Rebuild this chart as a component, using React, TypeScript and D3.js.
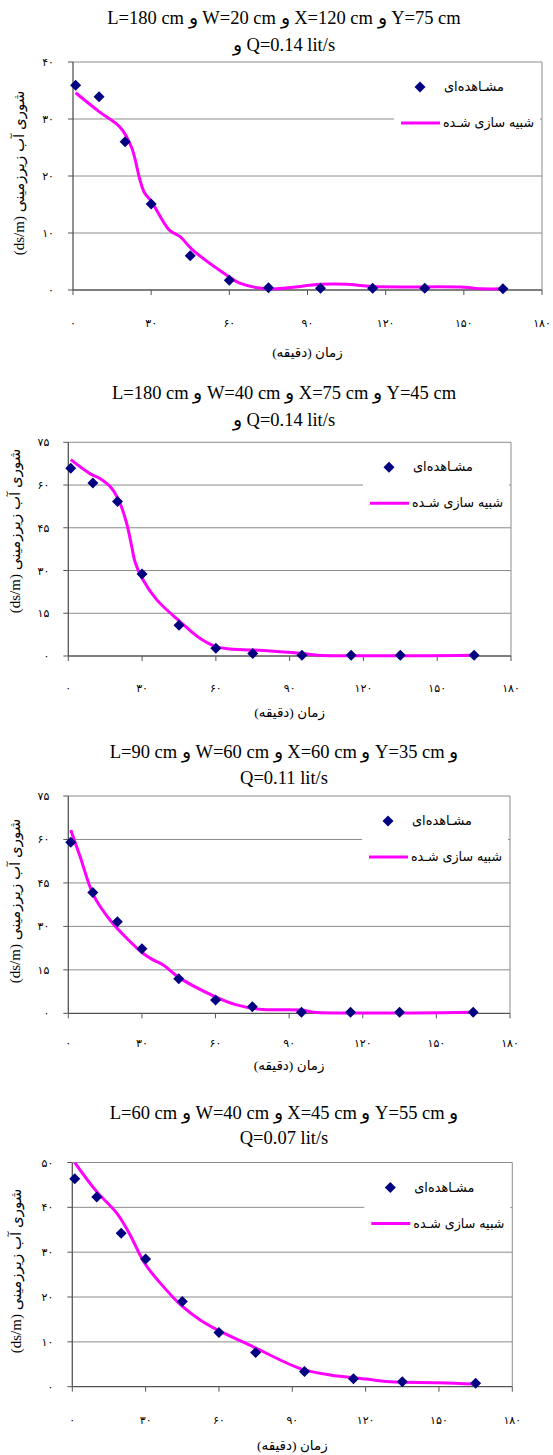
import React from 'react';
import * as d3 from 'd3';

// ---------- data ----------
const obsTime = [1, 10, 20, 30, 45, 60, 75, 95, 115, 135, 165];
const obs1 = [35.9, 33.9, 26.0, 15.1, 6.0, 1.7, 0.4, 0.3, 0.3, 0.3, 0.2];
const obs2 = [65.9, 60.7, 54.2, 28.8, 10.8, 2.7, 0.9, 0.3, 0.3, 0.3, 0.3];
const obs3 = [59.0, 41.7, 31.6, 22.3, 11.9, 4.6, 2.3, 0.4, 0.4, 0.4, 0.4];
const obs4 = [46.4, 42.3, 34.2, 28.5, 19.0, 12.1, 7.6, 3.4, 1.8, 1.1, 0.75];

const simTime1 = [1, 10, 18, 22.5, 25.7, 27.5, 30, 37, 41, 46, 60, 64, 75, 95, 105, 115, 150, 157, 165];
const sim1 = [34.6, 31.3, 28.6, 25.0, 19.3, 17.0, 15.6, 10.5, 9.4, 7.0, 2.3, 1.2, 0.2, 1.0, 1.0, 0.6, 0.5, 0.2, 0.2];

const simTime2 = [1, 8.8, 13, 17.6, 21, 23.7, 25.8, 27.1, 30, 36, 45.4, 53.5, 60, 67, 75, 95, 101.5, 165];
const sim2 = [68.9, 64.0, 62.2, 58.9, 53.7, 46.6, 38.4, 33.1, 27.3, 19.7, 12.1, 6.2, 3.3, 2.4, 2.1, 0.9, 0.3, 0.3];

const simTime3 = [1, 4.8, 10.2, 17, 23.8, 30, 34, 38.7, 45, 60, 68.6, 78, 95, 100, 165];
const sim3 = [63.3, 54.1, 40.9, 32.2, 25.9, 21.0, 18.7, 16.7, 12.4, 5.7, 2.9, 1.4, 1.1, 0.4, 0.4];

const simTime4 = [1, 10, 18.2, 23.6, 27.7, 30, 36, 44.8, 52.3, 60, 74, 93, 105.5, 120.5, 130, 150, 165];
const sim4 = [50.0, 43.5, 38.7, 33.9, 29.4, 27.2, 23.1, 18.0, 14.9, 12.5, 8.9, 4.1, 2.6, 1.7, 1.1, 0.9, 0.6];

const xTicks = [0, 30, 60, 90, 120, 150, 180];
const xTickLabels = ['۰', '۳۰', '۶۰', '۹۰', '۱۲۰', '۱۵۰', '۱۸۰'];
const yTicks40 = [0, 10, 20, 30, 40];
const yTickLabels40 = ['۰', '۱۰', '۲۰', '۳۰', '۴۰'];
const yTicks75 = [0, 15, 30, 45, 60, 75];
const yTickLabels75 = ['۰', '۱۵', '۳۰', '۴۵', '۶۰', '۷۵'];
const yTicks50 = [0, 10, 20, 30, 40, 50];
const yTickLabels50 = ['۰', '۱۰', '۲۰', '۳۰', '۴۰', '۵۰'];

const titles1 = ['L=180 cm و W=20 cm و X=120 cm و Y=75 cm', 'و Q=0.14 lit/s'];
const titles2 = ['L=180 cm و W=40 cm و X=75 cm و Y=45 cm', 'و Q=0.14 lit/s'];
const titles3 = ['L=90 cm و W=60 cm و X=60 cm و Y=35 cm و', 'Q=0.11 lit/s'];
const titles4 = ['L=60 cm و W=40 cm و X=45 cm و Y=55 cm و', 'Q=0.07 lit/s'];

const yLabel = 'شوری آب زیرزمینی (ds/m)';
const xLabel = 'زمان (دقیقه)';
const legendObs = 'مشـاهده‌ای';
const legendSim = 'شبیه سازی شـده';

// ---------- layout ----------
const panels = [
  { obs: obs1, simT: simTime1, sim: sim1, yTicks: yTicks40, yLabels: yTickLabels40, titles: titles1,
    left: 73, right: 542, top: 62, bottom: 290, t1: 24, t2: 51, ylx: 21, yly: 173, xty: 327, xly: 357 },
  { obs: obs2, simT: simTime2, sim: sim2, yTicks: yTicks75, yLabels: yTickLabels75, titles: titles2,
    left: 68.3, right: 511, top: 442.3, bottom: 656, t1: 399, t2: 426, ylx: 17, yly: 531, xty: 692, xly: 717 },
  { obs: obs3, simT: simTime3, sim: sim3, yTicks: yTicks75, yLabels: yTickLabels75, titles: titles3,
    left: 68.3, right: 510, top: 796, bottom: 1013.3, t1: 758, t2: 784, ylx: 17, yly: 901, xty: 1047, xly: 1070 },
  { obs: obs4, simT: simTime4, sim: sim4, yTicks: yTicks50, yLabels: yTickLabels50, titles: titles4,
    left: 72.3, right: 512.3, top: 1162.5, bottom: 1386.7, t1: 1119, t2: 1144, ylx: 18, yly: 1271, xty: 1424, xly: 1450 },
];

const NAVY = '#000080';
const MAGENTA = '#FF00FF';
const GRID = '#8c8c8c';
const SERIF = "'Liberation Serif', 'Times New Roman', serif";
const MIXED = "'Liberation Serif', 'DejaVu Sans', serif";
const SANS = "'DejaVu Sans', sans-serif";

function Diamond({ cx, cy, r = 5.5 }: { cx: number; cy: number; r?: number }) {
  return <path d={`M${cx},${cy - r}L${cx + r},${cy}L${cx},${cy + r}L${cx - r},${cy}Z`} fill={NAVY} />;
}

function Panel({ p }: { p: any }) {
  const x = d3.scaleLinear().domain([0, 180]).range([p.left, p.right]);
  const yMax = p.yTicks[p.yTicks.length - 1];
  const y = d3.scaleLinear().domain([0, yMax]).range([p.bottom, p.top]);
  const line = d3
    .line<number>()
    .x((_, i) => x(p.simT[i]))
    .y((d) => y(d))
    .curve(d3.curveCatmullRom.alpha(0.5));
  const R = p.right;
  const cx = (p.left + p.right) / 2;
  return (
    <g>
      <text x={284} y={p.t1} textAnchor="middle" direction="ltr" fontFamily={SERIF} fontSize={18.5} fill="#000">
        {p.titles[0]}
      </text>
      <text x={284} y={p.t2} textAnchor="middle" direction="ltr" fontFamily={SERIF} fontSize={18.5} fill="#000">
        {p.titles[1]}
      </text>
      {/* grid lines */}
      {p.yTicks.slice(1).map((t: number) => (
        <line key={'g' + t} x1={p.left} x2={p.right} y1={y(t)} y2={y(t)} stroke={GRID} strokeWidth={1} />
      ))}
      <line x1={p.right} x2={p.right} y1={p.top} y2={p.bottom} stroke={GRID} strokeWidth={1} />
      {/* legend box */}
      <rect x={R - 148} y={p.top + 4} width={146} height={72} fill="#fff" />
      {/* axes */}
      <line x1={p.left} x2={p.left} y1={p.top} y2={p.bottom} stroke="#555" strokeWidth={1.3} />
      <line x1={p.left} x2={p.right} y1={p.bottom} y2={p.bottom} stroke="#555" strokeWidth={1.3} />
      {p.yTicks.map((t: number, i: number) => (
        <g key={'y' + t}>
          <line x1={p.left - 5} x2={p.left} y1={y(t)} y2={y(t)} stroke="#555" strokeWidth={1} />
          <text x={p.left - 19} y={y(t) + 4} textAnchor="end" fontFamily={SANS} fontSize={11} fill="#000">
            {p.yLabels[i]}
          </text>
        </g>
      ))}
      {xTicks.map((t, i) => (
        <g key={'x' + t}>
          <line x1={x(t)} x2={x(t)} y1={p.bottom} y2={p.bottom + 5} stroke="#555" strokeWidth={1} />
          <text x={x(t)} y={p.xty} textAnchor="middle" fontFamily={SANS} fontSize={11} fill="#000">
            {xTickLabels[i]}
          </text>
        </g>
      ))}
      {/* series */}
      <path d={line(p.sim) || ''} fill="none" stroke={MAGENTA} strokeWidth={3} />
      {p.obs.map((v: number, i: number) => (
        <Diamond key={'o' + i} cx={x(obsTime[i])} cy={y(v)} />
      ))}
      {/* legend */}
      <Diamond cx={R - 122} cy={p.top + 25} />
      <text x={R - 38} y={p.top + 29} textAnchor="end" fontFamily={SANS} fontSize={13.5}
        textLength={60} lengthAdjust="spacingAndGlyphs" fill="#000">
        {legendObs}
      </text>
      <line x1={R - 141} x2={R - 102} y1={p.top + 61} y2={p.top + 61} stroke={MAGENTA} strokeWidth={3} />
      <text x={R - 8} y={p.top + 65} textAnchor="end" fontFamily={SANS} fontSize={13.5}
        textLength={91} lengthAdjust="spacingAndGlyphs" fill="#000">
        {legendSim}
      </text>
      {/* axis labels */}
      <text
        transform={`translate(${p.ylx},${p.yly}) rotate(-90)`}
        textAnchor="middle"
        direction="rtl"
        dominantBaseline="middle"
        fontFamily={MIXED}
        fontSize={15}
        fill="#000"
      >
        {yLabel}
      </text>
      <text x={cx} y={p.xly} textAnchor="middle" direction="rtl" fontFamily={MIXED} fontSize={13.5} fill="#000">
        {xLabel}
      </text>
    </g>
  );
}

export default function App() {
  return (
    <svg
      width={553}
      height={1455}
      viewBox="0 0 553 1455"
      style={{ position: 'absolute', left: 0, top: 0, background: '#fff' }}
    >
      <rect x={0} y={0} width={553} height={1455} fill="#fff" />
      {panels.map((p, i) => (
        <Panel key={i} p={p} />
      ))}
    </svg>
  );
}
